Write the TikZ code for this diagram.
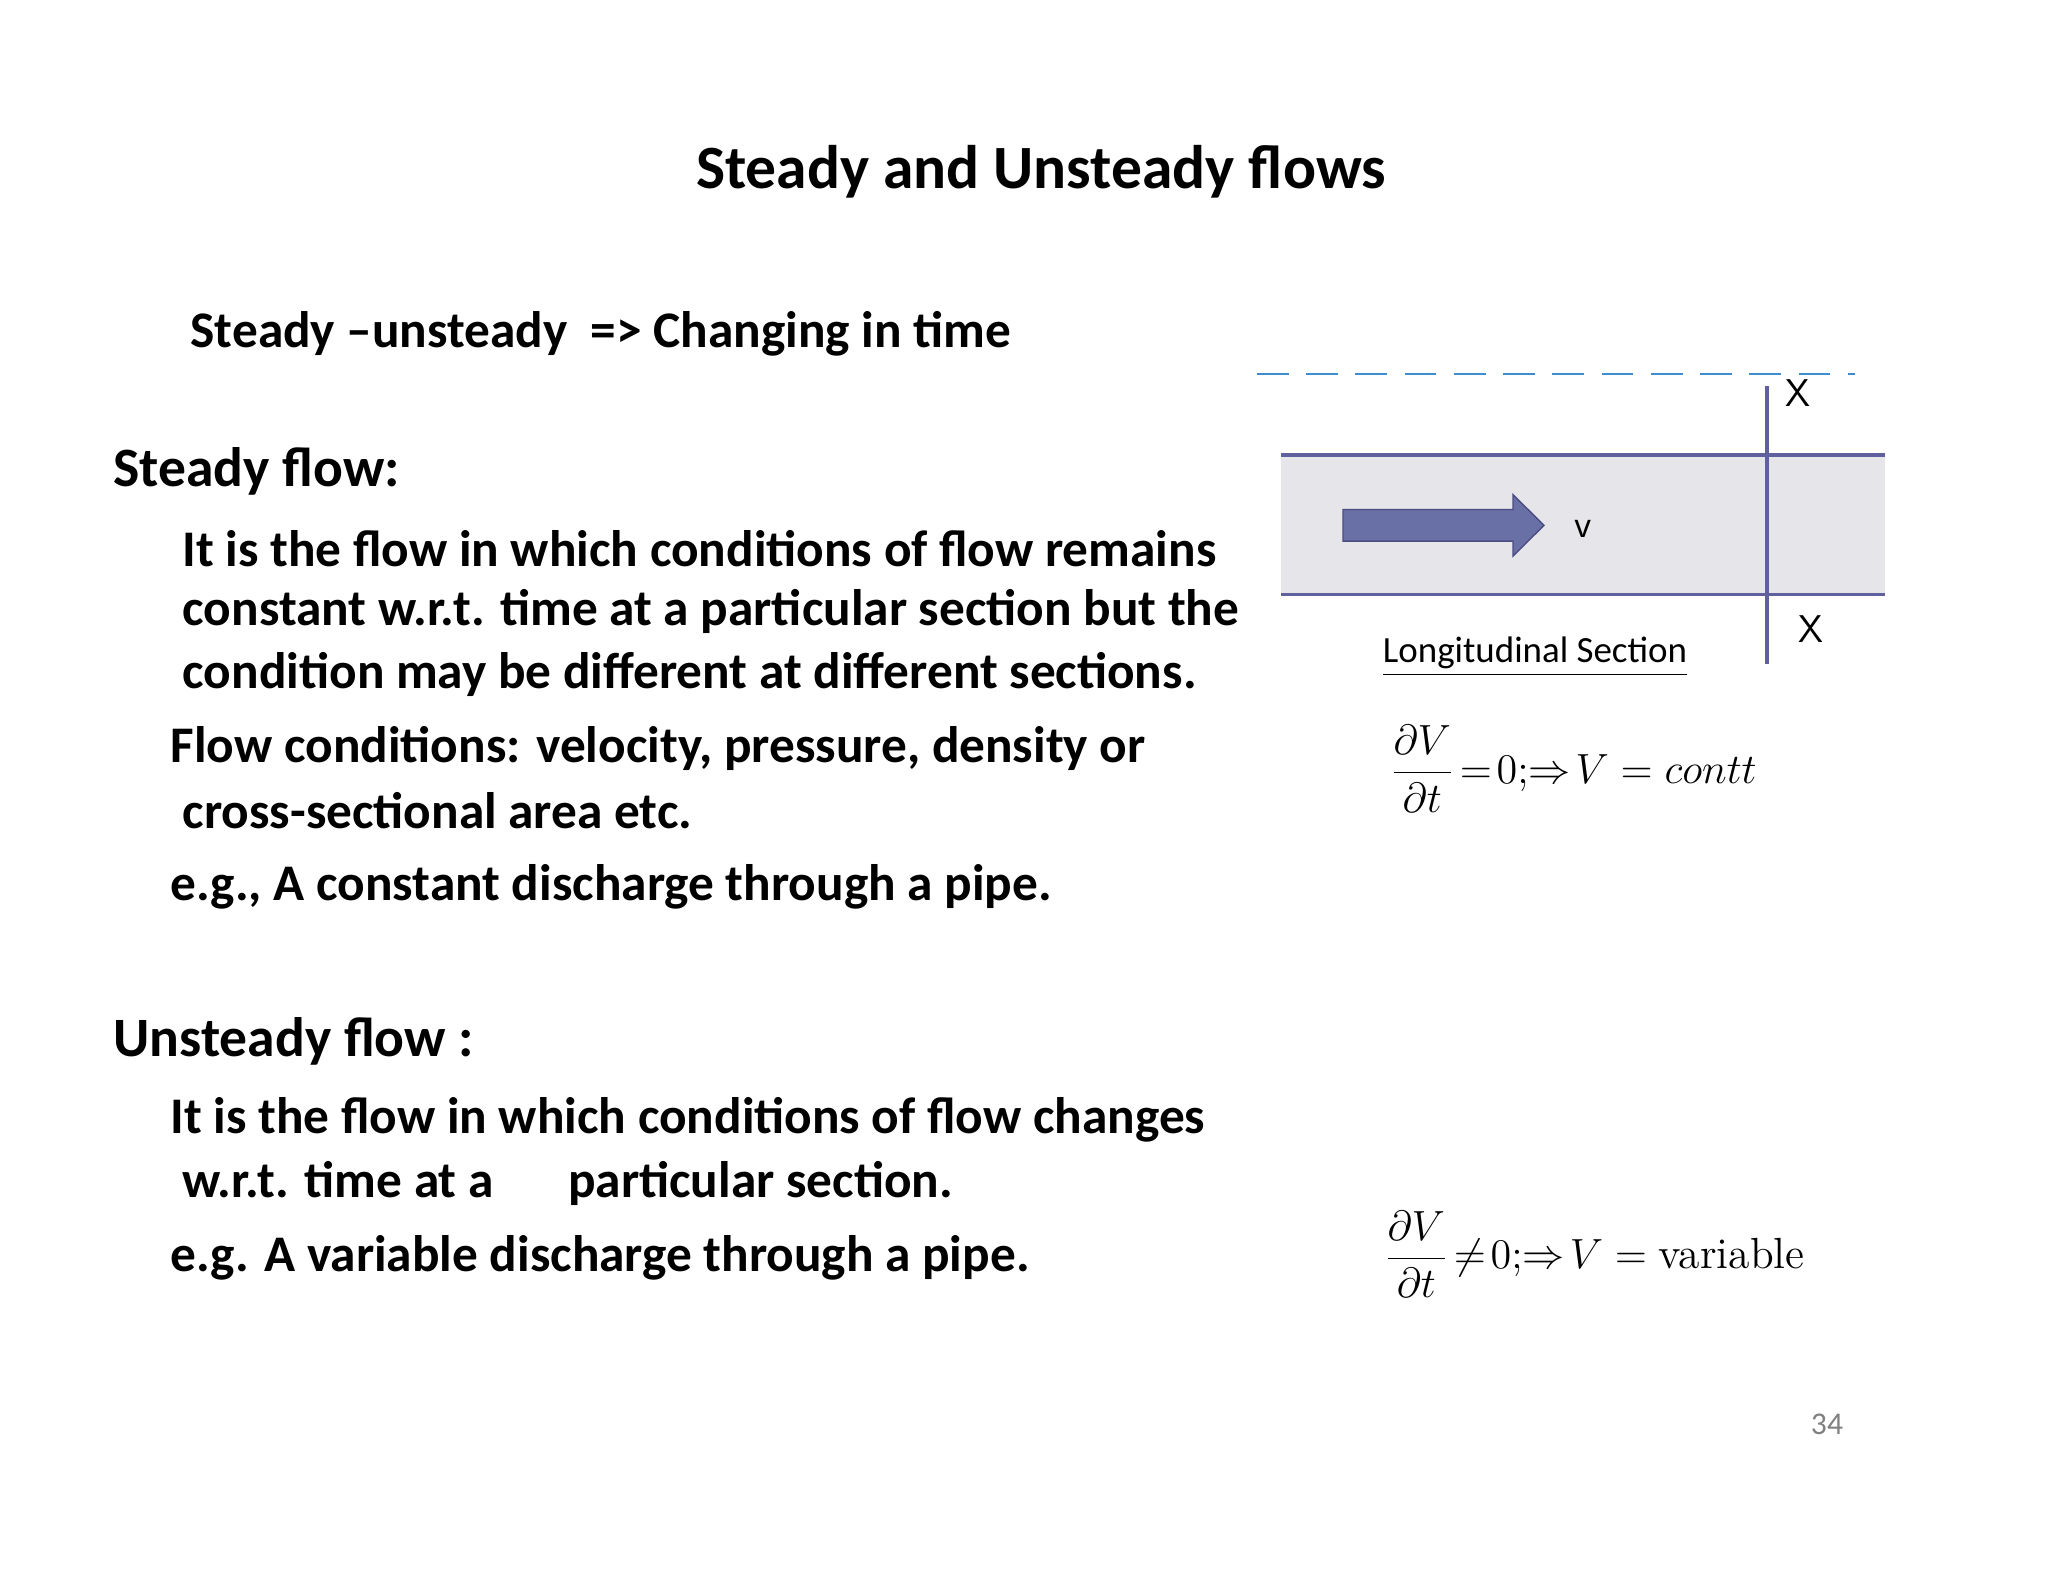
\documentclass[tikz,border=0pt]{standalone}
\usepackage{fontspec}
\setmainfont{Carlito}
\newfontfamily\lmr{Latin Modern Roman}
\usepackage{amsmath}
\definecolor{arrowfill}{RGB}{104,112,165}
\begin{document}
\begin{tikzpicture}[x=0.01cm,y=-0.00989cm,
  txt/.style={anchor=west,inner sep=0,font=\bfseries\fontsize{14.6}{17}\selectfont},
  head/.style={anchor=west,inner sep=0,font=\bfseries\fontsize{15.8}{19}\selectfont},
  pipeline/.style={draw=blue!25!gray,line width=1pt}]
\useasboundingbox (0,0) rectangle (2048,1600);
\node[inner sep=0,font=\bfseries\fontsize{17.5}{20}\selectfont] (title) at (1041,174) {Steady and Unsteady flows};
\node[txt] (t1) at (190,337) {Steady –unsteady\ \ => Changing in time};
\node[head] (h1) at (113,476) {Steady flow:};
\node[txt] (l1) at (182,555) {It is the flow in which conditions of flow remains};
\node[txt] (l2) at (182,618) {constant w.r.t. time at a particular section but the};
\node[txt] (l3) at (182,682) {condition may be different at different sections.};
\node[txt] (l4) at (170,757) {Flow conditions: velocity, pressure, density or};
\node[txt] (l5) at (182,819) {cross-sectional area etc.};
\node[txt] (l6) at (170,896) {e.g., A constant discharge through a pipe.};
\node[head] (h2) at (113,1053) {Unsteady flow :};
\node[txt] (m1) at (170,1132) {It is the flow in which conditions of flow changes};
\node[txt] (m2) at (182,1196) {w.r.t. time at a\quad\ \ particular section.};
\node[txt] (m3) at (170,1271) {e.g. A variable discharge through a pipe.};
% diagram
\fill[blue!10!gray!18] (1281,460) rectangle (1885,601);
\draw[pipeline] (1281,460) -- (1885,460);
\draw[pipeline] (1281,601) -- (1885,601);
\draw[cyan!60!blue!80,dash pattern=on 9pt off 5pt,line width=0.7pt] (1257,378) -- (1855,378);
\draw[blue!25!gray,line width=1pt] (1767,390) -- (1767,671);
\node[inner sep=0,font=\sffamily\fontsize{11}{13}\selectfont] (x1) at (1798,397) {X};
\node[inner sep=0,font=\sffamily\fontsize{11}{13}\selectfont] (x2) at (1811,636) {X};
\fill[arrowfill,draw=blue!30!black!70] (1343,515) -- (1513,515) -- (1513,500) -- (1544,531) -- (1513,562) -- (1513,547) -- (1343,547) -- cycle;
\node[inner sep=0,font=\sffamily\fontsize{11}{13}\selectfont] (v) at (1583,535) {v};
\node[inner sep=0,font=\fontsize{10.5}{12}\selectfont] (ls) at (1535,664) {\underline{Longitudinal Section}};
\node[inner sep=0,font=\fontsize{12.4}{15}\selectfont] (e1) at (1573,777) {$\dfrac{\partial V}{\partial t}\!=\!0;\!\Rightarrow\! V=\mathnormal{contt}$};
\node[inner sep=0,font=\fontsize{12.4}{15}\selectfont] (e2) at (1594,1268) {$\dfrac{\partial V}{\partial t}\!\neq\!0;\!\Rightarrow\! V=\text{\lmr variable}$};
\node[inner sep=0,text=gray,font=\fontsize{9}{11}\selectfont] (pg) at (1827,1440) {34};
\end{tikzpicture}
\end{document}
